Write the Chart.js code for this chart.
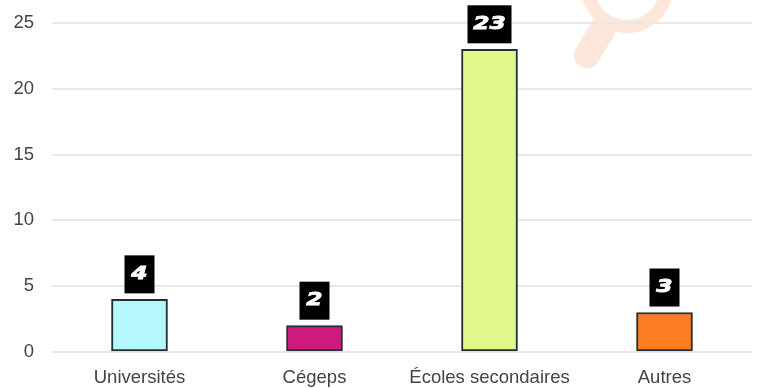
<!DOCTYPE html>
<html>
<head>
<meta charset="utf-8">
<script src="https://cdn.jsdelivr.net/npm/chart.js@4"></script>
<style>
  html, body { margin: 0; background: #fff; }
  canvas { display: block; }
</style>
</head>
<body>
<canvas id="myChart" width="760" height="388"></canvas>
<script>
const categories = ["Universités", "Cégeps", "Écoles secondaires", "Autres"];
const counts = [4, 2, 23, 3];
const barColors = ["#b4f7fd", "#cf1a80", "#e1f88c", "#fb7d22"];
const yTicks = [0, 5, 10, 15, 20, 25];

// faint magnifying glass behind the grid
const magnifier = {
  id: "magnifier",
  beforeDraw(chart) {
    const c = chart.ctx;
    c.save();
    c.strokeStyle = "#fde6da";
    c.lineCap = "round";
    c.lineWidth = 13;
    c.beginPath();
    c.arc(627, -13, 39.5, 0, Math.PI * 2);
    c.stroke();
    c.lineWidth = 26;
    c.beginPath();
    c.moveTo(587, 55);
    c.lineTo(603, 29);
    c.stroke();
    c.restore();
  },
};

// black value tags above each bar
const valueTags = {
  id: "valueTags",
  afterDatasetsDraw(chart) {
    const c = chart.ctx;
    const bars = chart.getDatasetMeta(0).data;
    c.save();
    bars.forEach((bar, i) => {
      const text = String(counts[i]);
      const w = text.length > 1 ? 44 : 30;
      const h = 38;
      c.fillStyle = "#000";
      c.fillRect(bar.x - w / 2, bar.y - 6 - h, w, h);
      c.save();
      c.translate(bar.x, bar.y - 6 - h / 2);
      c.scale(1.3, 1);
      c.fillStyle = "#fff";
      c.strokeStyle = "#fff";
      c.lineWidth = 0.8;
      c.font = "italic bold 18px 'DejaVu Sans'";
      c.textAlign = "center";
      c.textBaseline = "middle";
      c.fillText(text, 0, 0);
      c.strokeText(text, 0, 0);
      c.restore();
    });
    c.restore();
  },
};

new Chart(document.getElementById("myChart"), {
  type: "bar",
  data: {
    labels: categories,
    datasets: [
      {
        data: counts,
        backgroundColor: barColors,
        borderColor: "#263030",
        borderWidth: 2,
        borderSkipped: false,
        barThickness: 56,
      },
    ],
  },
  plugins: [magnifier, valueTags],
  options: {
    responsive: false,
    animation: false,
    layout: { padding: { top: 23, right: 8 } },
    plugins: { legend: { display: false }, tooltip: { enabled: false } },
    scales: {
      x: {
        grid: { display: false },
        border: { display: false },
        afterFit(axis) { axis.height = 36; },
        ticks: {
          color: "#444444",
          padding: 7,
          maxRotation: 0,
          font: { family: "'Liberation Sans'", size: 18.5 },
        },
      },
      y: {
        min: 0,
        max: 25,
        afterFit(axis) { axis.width = 52; },
        afterBuildTicks(axis) { axis.ticks = yTicks.map((value) => ({ value })); },
        // invisible tick marks keep the labels clear of the grid
        grid: { color: "#e8e8e8", lineWidth: 2, tickLength: 18, tickColor: "transparent" },
        border: { display: false },
        ticks: {
          color: "#444444",
          padding: 0,
          font: { family: "'Liberation Sans'", size: 18.5 },
        },
      },
    },
  },
});
</script>
</body>
</html>
